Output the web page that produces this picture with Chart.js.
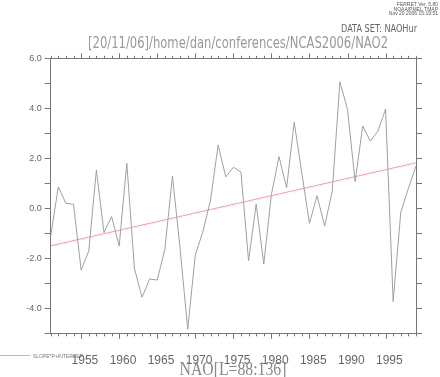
<!DOCTYPE html>
<html>
<head>
<meta charset="utf-8">
<script src="https://cdn.jsdelivr.net/npm/chart.js@4"></script>
<style>
  body { margin: 0; background: #fff; }
  canvas { display: block; }
</style>
</head>
<body>
<canvas id="myChart" width="440" height="377"></canvas>
<script>
// winter NAO index, one value per year
const years = [1951, 1952, 1953, 1954, 1955, 1956, 1957, 1958, 1959, 1960,
  1961, 1962, 1963, 1964, 1965, 1966, 1967, 1968, 1969, 1970,
  1971, 1972, 1973, 1974, 1975, 1976, 1977, 1978, 1979, 1980,
  1981, 1982, 1983, 1984, 1985, 1986, 1987, 1988, 1989, 1990,
  1991, 1992, 1993, 1994, 1995, 1996, 1997, 1998, 1999];
const nao = [-1.1, 0.86, 0.2, 0.16, -2.47, -1.71, 1.53, -0.97, -0.33, -1.51,
  1.8, -2.4, -3.56, -2.83, -2.87, -1.64, 1.29, -1.6, -4.84, -1.87,
  -0.93, 0.33, 2.53, 1.26, 1.64, 1.45, -2.1, 0.17, -2.23, 0.55,
  2.07, 0.83, 3.44, 1.4, -0.6, 0.5, -0.71, 0.7, 5.06, 3.96,
  1.07, 3.29, 2.69, 3.09, 3.97, -3.73, -0.16, 0.8, 1.69];
// fitted line SLOPE*P+INTERCEP, values at both ends
const trendYears = [1951, 1999];
const trendValues = [-1.5, 1.82];
const yTicks = [-4, -2, 0, 2, 4, 6];

const axisColor = '#777';

const tickPlugin = {
  id: 'ferretTicks',
  afterDraw(chart) {
    const ctx = chart.ctx;
    const xs = chart.scales.x;
    const area = chart.chartArea;
    ctx.save();
    ctx.strokeStyle = axisColor;
    ctx.lineWidth = 1;
    ctx.beginPath();
    xs.ticks.forEach(t => {
      const px = Math.round(xs.getPixelForValue(t.value)) + 0.5;
      const major = t.value % 5 === 0;
      // top axis, outward
      ctx.moveTo(px, area.top);
      ctx.lineTo(px, area.top - (major ? 5 : 2.5));
      // bottom axis, outward
      ctx.moveTo(px, area.bottom);
      ctx.lineTo(px, area.bottom + (major ? 5.5 : 3));
    });
    ctx.stroke();

    // header texts
    ctx.fillStyle = '#555';
    ctx.textAlign = 'right';
    ctx.font = '5px "Liberation Sans"';
    ctx.fillText('FERRET Ver. 5.80', 438, 6);
    ctx.fillText('NOAA/PMEL TMAP', 438, 10.5);
    ctx.fillText('Nov 20 2006 15:19:51', 438, 15);

    ctx.fillStyle = '#666';
    ctx.font = '10px "DejaVu Sans"';
    ctx.fillText('DATA SET: NAOHur', 417, 32, 76);

    ctx.textAlign = 'center';
    ctx.fillStyle = '#999';
    ctx.font = '15px "DejaVu Sans"';
    ctx.fillText('[20/11/06]/home/dan/conferences/NCAS2006/NAO2', 238, 48, 300);

    ctx.fillStyle = '#888';
    ctx.font = '19px "Liberation Serif"';
    ctx.fillText('NAO[L=88:136]', 233, 375, 107);

    // legend
    ctx.strokeStyle = '#ff9a9a';
    ctx.beginPath();
    ctx.moveTo(0, 355.5);
    ctx.lineTo(30, 355.5);
    ctx.stroke();
    ctx.textAlign = 'left';
    ctx.fillStyle = '#777';
    ctx.font = '5.5px "Liberation Sans"';
    ctx.fillText('SLOPE*P+INTERCEP', 33, 358, 50);
    ctx.restore();
  }
};

const data = {
  datasets: [{
    label: 'NAO',
    data: years.map((yr, i) => ({ x: yr, y: nao[i] })),
    borderColor: '#a0a0a0',
    borderWidth: 1,
    pointRadius: 0,
    tension: 0,
    xAxisID: 'x',
    yAxisID: 'y'
  }, {
    label: 'SLOPE*P+INTERCEP',
    data: trendYears.map((yr, i) => ({ x: yr, y: trendValues[i] })),
    borderColor: '#ff9a9a',
    borderWidth: 1,
    pointRadius: 0,
    xAxisID: 'x',
    yAxisID: 'y'
  }]
};

const config = {
  type: 'line',
  data: data,
  options: {
    responsive: false,
    animation: false,
    layout: { padding: 0 },
    plugins: {
      legend: { display: false },
      title: { display: false },
      tooltip: { enabled: false }
    },
    scales: {
      x: {
        type: 'linear',
        position: 'bottom',
        min: years[0],
        max: years[years.length - 1],
        grid: { display: false },
        border: { display: true, color: axisColor },
        ticks: {
          stepSize: 1,
          autoSkip: false,
          maxRotation: 0,
          labelOffset: 3.8,
          padding: 12,
          color: '#666',
          font: { family: 'Liberation Sans', size: 12 },
          callback: v => (v % 5 === 0 ? String(v) : '')
        },
        afterFit: s => { s.height = 43.7; }
      },
      x2: {
        type: 'linear',
        position: 'top',
        min: years[0],
        max: years[years.length - 1],
        grid: { display: false },
        border: { display: true, color: axisColor },
        ticks: { display: false, stepSize: 1 },
        afterFit: s => { s.height = 58.3; }
      },
      y: {
        position: 'left',
        min: -5,
        max: 6,
        grid: { drawOnChartArea: false, tickLength: 6, color: axisColor },
        border: { display: true, color: axisColor },
        ticks: {
          stepSize: 1,
          padding: 3,
          color: '#666',
          font: { family: 'Liberation Sans', size: 9 },
          callback: v => (yTicks.includes(v) ? v.toFixed(1) : '')
        },
        afterFit: s => { s.width = 50.7; }
      },
      y2: {
        position: 'right',
        min: -5,
        max: 6,
        grid: { drawOnChartArea: false, tickLength: 6, color: axisColor },
        border: { display: true, color: axisColor },
        ticks: { display: false, stepSize: 1 },
        afterFit: s => { s.width = 24; }
      }
    }
  },
  plugins: [tickPlugin]
};

const myChart = new Chart(document.getElementById('myChart'), config);
</script>
</body>
</html>
